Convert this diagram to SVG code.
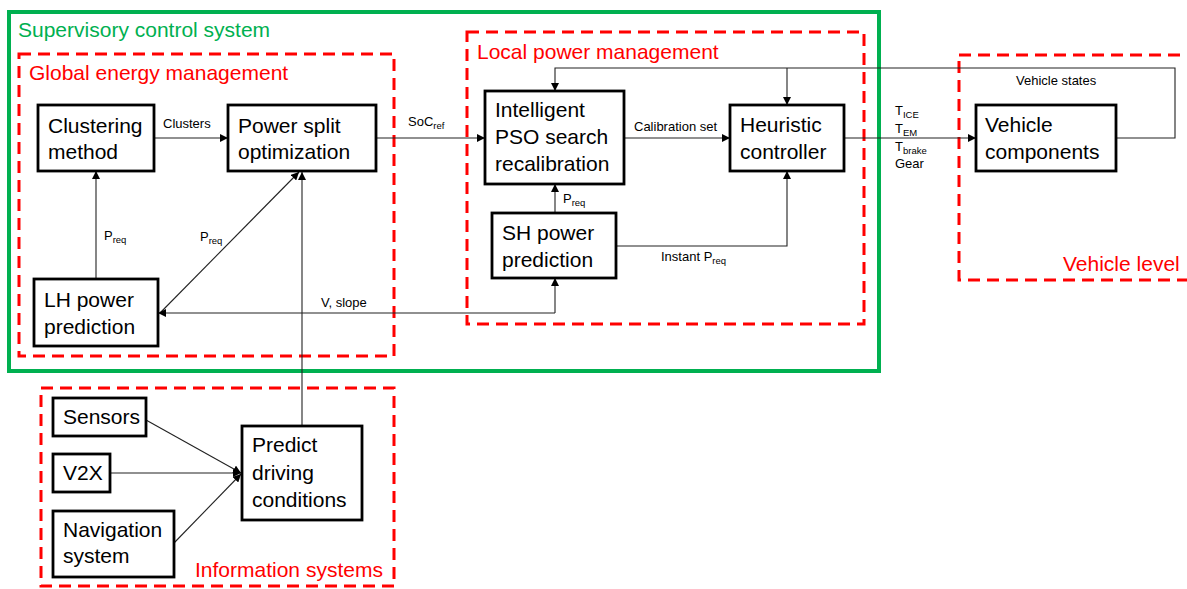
<svg xmlns="http://www.w3.org/2000/svg" width="1187" height="589" viewBox="0 0 1187 589">
<defs>
<style>
.t{font-family:"Liberation Sans",Arial,sans-serif;}
.node{fill:#fff;stroke:#000;stroke-width:2.8;}
.nt{font-family:"Liberation Sans",Arial,sans-serif;font-size:21px;fill:#000;}
.lbl{font-family:"Liberation Sans",Arial,sans-serif;font-size:13px;fill:#000;}
.sub{font-size:9.5px;}
.grp{fill:none;stroke:#FF0000;stroke-width:3;stroke-dasharray:12,7;}
.gt{font-family:"Liberation Sans",Arial,sans-serif;font-size:21px;fill:#FF0000;}
.c{fill:none;stroke:#222;stroke-width:1.1;}
</style>
<marker id="a" viewBox="0 0 10 10" refX="10" refY="5" markerWidth="8" markerHeight="8" markerUnits="userSpaceOnUse" orient="auto">
<path d="M0,0 L10,5 L0,10 z" fill="#000"/>
</marker>
</defs>
<rect width="1187" height="589" fill="#fff"/>

<g id="supervisory">
<rect x="9" y="12" width="870" height="359" fill="none" stroke="#00B050" stroke-width="4"/>
<text class="t" x="18" y="37" font-size="21" fill="#00B050">Supervisory control system</text>
</g>
<g id="global-energy">
<rect class="grp" x="19" y="54" width="375" height="302"/>
<text class="gt" x="29" y="80">Global energy management</text>
</g>
<g id="local-power">
<rect class="grp" x="467" y="32" width="397" height="292"/>
<text class="gt" x="477" y="59">Local power management</text>
</g>
<g id="vehicle-level">
<rect class="grp" x="959" y="55" width="240" height="225"/>
<text class="gt" x="1063" y="271">Vehicle level</text>
</g>
<g id="information-systems">
<rect class="grp" x="41" y="388" width="353" height="198"/>
<text class="gt" x="195" y="577">Information systems</text>
</g>

<g id="connectors">
<path class="c" d="M154,138 H228" marker-end="url(#a)"/>
<path class="c" d="M376,138 H485" marker-end="url(#a)"/>
<path class="c" d="M624,138 H730" marker-end="url(#a)"/>
<path class="c" d="M844,138 H976" marker-end="url(#a)"/>
<path class="c" d="M1116,138 H1175 V68 H555 V91" marker-end="url(#a)"/>
<path class="c" d="M787,68 V105" marker-end="url(#a)"/>
<path class="c" d="M555,213 V184" marker-end="url(#a)"/>
<path class="c" d="M616,246 H787 V171" marker-end="url(#a)"/>
<path class="c" d="M96,279 V171" marker-end="url(#a)"/>
<path class="c" d="M160,313 L299,172" marker-end="url(#a)"/>
<path class="c" d="M302,425 V172" marker-end="url(#a)"/>
<path class="c" d="M555,313 H158" marker-end="url(#a)"/>
<path class="c" d="M555,313 V278" marker-end="url(#a)"/>
<path class="c" d="M146,420 L241,473" marker-end="url(#a)"/>
<path class="c" d="M110,473 H241" marker-end="url(#a)"/>
<path class="c" d="M174,543 L241,474" marker-end="url(#a)"/>
<text class="lbl" x="163" y="128">Clusters</text>
<text class="lbl" x="408" y="126">SoC<tspan class="sub" dy="3">ref</tspan></text>
<text class="lbl" x="634" y="131">Calibration set</text>
<text class="lbl" x="1016" y="85">Vehicle states</text>
<text class="lbl" x="895" y="115">T<tspan class="sub" dy="3">ICE</tspan></text>
<text class="lbl" x="895" y="133">T<tspan class="sub" dy="3">EM</tspan></text>
<text class="lbl" x="895" y="151">T<tspan class="sub" dy="3">brake</tspan></text>
<text class="lbl" x="895" y="168">Gear</text>
<text class="lbl" x="563" y="203">P<tspan class="sub" dy="3">req</tspan></text>
<text class="lbl" x="661" y="261">Instant P<tspan class="sub" dy="3">req</tspan></text>
<text class="lbl" x="104" y="240">P<tspan class="sub" dy="3">req</tspan></text>
<text class="lbl" x="200" y="241">P<tspan class="sub" dy="3">req</tspan></text>
<text class="lbl" x="321" y="307">V, slope</text>
</g>

<g id="clustering-method">
<rect class="node" x="38" y="105" width="116" height="66"/>
<text class="nt" x="48" y="133">Clustering</text>
<text class="nt" x="48" y="159">method</text>
</g>
<g id="power-split">
<rect class="node" x="228" y="105" width="148" height="66"/>
<text class="nt" x="238" y="133">Power split</text>
<text class="nt" x="238" y="159">optimization</text>
</g>
<g id="pso">
<rect class="node" x="485" y="91" width="139" height="93"/>
<text class="nt" x="495" y="117">Intelligent</text>
<text class="nt" x="495" y="144">PSO search</text>
<text class="nt" x="495" y="171">recalibration</text>
</g>
<g id="heuristic">
<rect class="node" x="730" y="105" width="114" height="66"/>
<text class="nt" x="740" y="132">Heuristic</text>
<text class="nt" x="740" y="159">controller</text>
</g>
<g id="vehicle-components">
<rect class="node" x="976" y="105" width="140" height="66"/>
<text class="nt" x="985" y="132">Vehicle</text>
<text class="nt" x="985" y="159">components</text>
</g>
<g id="sh-power">
<rect class="node" x="492" y="213" width="124" height="65"/>
<text class="nt" x="502" y="240">SH power</text>
<text class="nt" x="502" y="267">prediction</text>
</g>
<g id="lh-power">
<rect class="node" x="34" y="279" width="124" height="67"/>
<text class="nt" x="44" y="307">LH power</text>
<text class="nt" x="44" y="334">prediction</text>
</g>
<g id="sensors">
<rect class="node" x="53" y="398" width="93" height="38"/>
<text class="nt" x="63" y="424">Sensors</text>
</g>
<g id="v2x">
<rect class="node" x="53" y="454" width="57" height="38"/>
<text class="nt" x="63" y="480">V2X</text>
</g>
<g id="navigation">
<rect class="node" x="53" y="511" width="121" height="66"/>
<text class="nt" x="63" y="537">Navigation</text>
<text class="nt" x="63" y="563">system</text>
</g>
<g id="predict">
<rect class="node" x="242" y="426" width="120" height="94"/>
<text class="nt" x="252" y="452">Predict</text>
<text class="nt" x="252" y="480">driving</text>
<text class="nt" x="252" y="507">conditions</text>
</g>
</svg>
